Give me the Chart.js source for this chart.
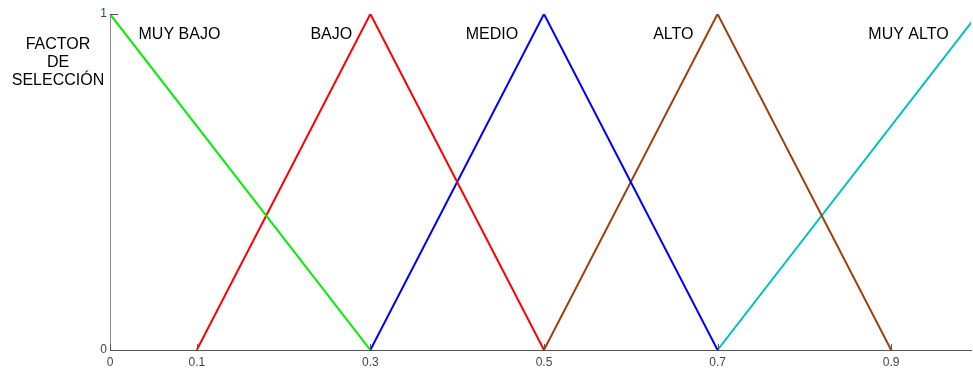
<!DOCTYPE html>
<html>
<head>
<meta charset="utf-8">
<script src="https://cdn.jsdelivr.net/npm/chart.js@4.4.0/dist/chart.umd.min.js"></script>
<style>
  html, body { margin: 0; padding: 0; background: #fff; }
  #wrap { width: 973px; height: 369px; }
</style>
</head>
<body>
<div id="wrap"><canvas id="fuzzyChart"></canvas></div>
<script>
// membership function breakpoints (x = factor, y = degree)
const muyBajoX = [0, 0.3];
const muyBajoY = [1, 0];
const bajoX = [0.1, 0.3, 0.5];
const bajoY = [0, 1, 0];
const medioX = [0.3, 0.5, 0.7];
const medioY = [0, 1, 0];
const altoX = [0.5, 0.7, 0.9];
const altoY = [0, 1, 0];
const muyAltoX = [0.7, 1];
const muyAltoY = [0, 1];

const xTicks = [0, 0.1, 0.3, 0.5, 0.7, 0.9];
const yTicks = [0, 1];

const setNames = ['MUY BAJO', 'BAJO', 'MEDIO', 'ALTO', 'MUY ALTO'];
const setLabelX = [0.08, 0.255, 0.44, 0.649, 0.92];

const toPoints = (xs, ys) => xs.map((x, i) => ({ x: x, y: ys[i] }));

const series = [
  { data: toPoints(muyBajoX, muyBajoY), color: '#00ee00' },
  { data: toPoints(bajoX, bajoY), color: '#ff0000' },
  { data: toPoints(medioX, medioY), color: '#0000ff' },
  { data: toPoints(altoX, altoY), color: '#a0400a' },
  { data: toPoints(muyAltoX, muyAltoY), color: '#00c0c0' }
];

// inward tick marks, set names and the y axis caption
const decorations = {
  id: 'decorations',
  afterDraw(chart) {
    const { ctx, chartArea, scales } = chart;
    const xs = scales.x, ys = scales.y;
    ctx.save();
    ctx.strokeStyle = '#555';
    ctx.lineWidth = 1;
    xTicks.forEach(v => {
      const px = Math.round(xs.getPixelForValue(v)) + 0.5;
      ctx.beginPath();
      ctx.moveTo(px, chartArea.bottom);
      ctx.lineTo(px, chartArea.bottom - 6);
      ctx.stroke();
    });
    yTicks.forEach(v => {
      const py = Math.round(ys.getPixelForValue(v)) + 0.5;
      ctx.beginPath();
      ctx.moveTo(chartArea.left, py);
      ctx.lineTo(chartArea.left + 8, py);
      ctx.stroke();
    });

    ctx.fillStyle = '#000';
    ctx.font = '16px "Liberation Sans", Arial, sans-serif';
    ctx.textAlign = 'center';
    ctx.textBaseline = 'middle';
    setNames.forEach((name, i) => {
      ctx.fillText(name, xs.getPixelForValue(setLabelX[i]), 35);
    });
    ['FACTOR', 'DE', 'SELECCIÓN'].forEach((line, i) => {
      ctx.fillText(line, 58, 45 + i * 18);
    });
    ctx.restore();
  }
};

new Chart(document.getElementById('fuzzyChart'), {
  type: 'scatter',
  data: {
    datasets: series.map(s => ({
      data: s.data,
      showLine: true,
      borderColor: s.color,
      backgroundColor: s.color,
      borderWidth: 2,
      pointRadius: 0,
      tension: 0
    }))
  },
  options: {
    responsive: true,
    maintainAspectRatio: false,
    animation: false,
    layout: { padding: { top: 14, right: 2, left: 0, bottom: 0 } },
    plugins: {
      legend: { display: false },
      tooltip: { enabled: false }
    },
    scales: {
      x: {
        type: 'linear',
        min: 0,
        max: 0.992,
        afterBuildTicks: scale => { scale.ticks = xTicks.map(v => ({ value: v })); },
        afterFit: scale => { scale.height = 19; },
        grid: { drawOnChartArea: false, drawTicks: false },
        border: { color: '#555', width: 1 },
        ticks: {
          padding: 5,
          color: '#444',
          font: { family: '"Liberation Sans", Arial, sans-serif', size: 12 },
          maxRotation: 0,
          autoSkip: false,
          callback: v => String(v)
        }
      },
      y: {
        min: 0,
        max: 1,
        afterBuildTicks: scale => { scale.ticks = yTicks.map(v => ({ value: v })); },
        afterFit: scale => { scale.width = 110; },
        grid: { drawOnChartArea: false, drawTicks: false },
        border: { color: '#888', width: 1 },
        ticks: {
          padding: 3,
          color: '#444',
          font: { family: '"Liberation Sans", Arial, sans-serif', size: 12 },
          callback: v => String(v)
        }
      }
    }
  },
  plugins: [decorations]
});
</script>
</body>
</html>
